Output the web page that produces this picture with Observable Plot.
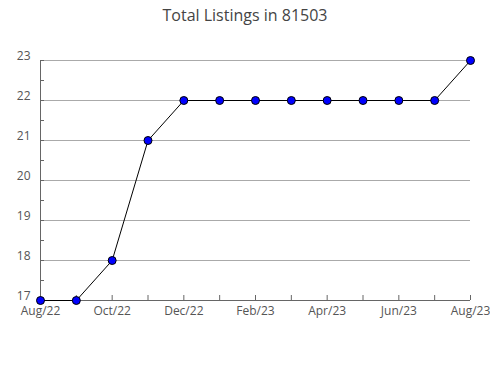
<!DOCTYPE html>
<html>
<head>
<meta charset="utf-8">
<script src="https://cdn.jsdelivr.net/npm/d3@7"></script>
<script src="https://cdn.jsdelivr.net/npm/@observablehq/plot@0.6"></script>
<style>
  html, body { margin: 0; padding: 0; background: #fff; }
  body { width: 490px; height: 380px; overflow: hidden; font-family: "Open Sans", sans-serif; }
  #title { height: 30px; line-height: 30px; text-align: center; font-size: 16px; color: #444; }
</style>
</head>
<body>
<div id="title">Total Listings in 81503</div>
<div id="chart"></div>
<script>
const months = ["Aug/22","Sep/22","Oct/22","Nov/22","Dec/22","Jan/23","Feb/23","Mar/23","Apr/23","May/23","Jun/23","Jul/23","Aug/23"];
const listings = [17, 17, 18, 21, 22, 22, 22, 22, 22, 22, 22, 22, 23];
const yTicks = [17, 18, 19, 20, 21, 22, 23];
const yMinorTicks = [17, 17.5, 18, 18.5, 19, 19.5, 20, 20.5, 21, 21.5, 22, 22.5, 23];
const xLabelMonths = ["Aug/22","Oct/22","Dec/22","Feb/23","Apr/23","Jun/23","Aug/23"];

const data = months.map((m, i) => ({month: m, value: listings[i]}));
const axisColor = "#666";

const chart = Plot.plot({
  width: 490,
  height: 350,
  marginTop: 30,
  marginBottom: 80,
  marginLeft: 40,
  marginRight: 20,
  style: {fontFamily: "Open Sans, sans-serif", fontSize: "12px", color: "#555", background: "#fff"},
  x: {type: "point", domain: months, padding: 0, inset: 0, round: false, label: null},
  y: {domain: [17, 23], label: null},
  marks: [
    Plot.gridY(yTicks.filter(d => d > 17), {stroke: "#aaa", strokeOpacity: 1}),
    Plot.axisY(yMinorTicks, {tickSize: -4, tickFormat: () => "", stroke: axisColor, label: null}),
    Plot.axisY(yTicks, {tickSize: 0, tickPadding: 10, dy: -4, fill: "#555", label: null}),
    Plot.axisX(months, {tickSize: -5, tickFormat: () => "", stroke: axisColor, label: null}),
    Plot.axisX(xLabelMonths, {tickSize: 0, tickPadding: 6, fill: "#555", label: null}),
    Plot.ruleY([17], {stroke: axisColor}),
    Plot.ruleX([months[0]], {stroke: axisColor}),
    Plot.line(data, {x: "month", y: "value", stroke: "black", strokeWidth: 1}),
    Plot.dot(data, {x: "month", y: "value", r: 4, fill: "#0000ff", stroke: "black", strokeWidth: 1})
  ]
});
document.getElementById("chart").appendChild(chart);
</script>
</body>
</html>
